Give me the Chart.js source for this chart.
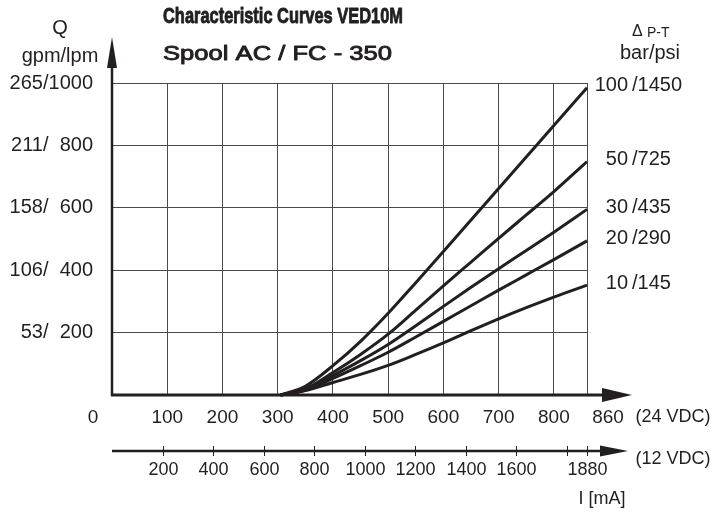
<!DOCTYPE html>
<html>
<head>
<meta charset="utf-8">
<title>Characteristic Curves VED10M</title>
<script src="https://cdn.jsdelivr.net/npm/chart.js@4"></script>
<style>
  html, body { margin: 0; padding: 0; background: #fff; }
  canvas { display: block; }
</style>
</head>
<body>
<canvas id="curves" width="717" height="512"></canvas>
<script>
// Coil current at 24 VDC (mA) where the flow curves are sampled
const CURRENT_24V = [305, 350, 400, 450, 500, 550, 600, 650, 700, 750, 800, 860];

// Flow Q (lpm) for each pressure drop P-T
const FLOW_100BAR = [0, 28, 94, 172, 262, 360, 460, 561, 662, 763, 864, 985];
const FLOW_50BAR  = [0, 20, 72, 130, 195, 272, 350, 426, 502, 577, 652, 748];
const FLOW_30BAR  = [0, 17, 62, 110, 162, 222, 284, 345, 405, 463, 522, 595];
const FLOW_20BAR  = [0, 15, 53, 94, 137, 186, 236, 286, 336, 385, 434, 494];
const FLOW_10BAR  = [0, 14, 40, 66, 95, 130, 167, 206, 244, 280, 314, 352];

const PRESSURE_BAR = [100, 50, 30, 20, 10];
const PRESSURE_PSI = [1450, 725, 435, 290, 145];

// Axis ticks
const FLOW_LPM = [200, 400, 600, 800, 1000];
const FLOW_GPM = [53, 106, 158, 211, 265];
const TICKS_24V = [0, 100, 200, 300, 400, 500, 600, 700, 800, 860];
const TICKS_12V = [200, 400, 600, 800, 1000, 1200, 1400, 1600, 1800, 1880];
const LABELS_12V = ["200", "400", "600", "800", "1000", "1200", "1400", "1600", "", "1880"];

const INK = "#231f20";
const GRID = "#4a4a4a";
const FONT = '"Liberation Sans", Arial, Helvetica, sans-serif';

function setFont(ctx, size, weight) {
    ctx.font = (weight || "normal") + " " + size + "px " + FONT;
}

function label(ctx, str, x, y, size, align) {
    setFont(ctx, size);
    ctx.textAlign = align || "center";
    ctx.fillText(str, x, y);
}

function arrowRight(ctx, tipX, tipY, len, half) {
    ctx.beginPath();
    ctx.moveTo(tipX, tipY);
    ctx.lineTo(tipX - len, tipY - half);
    ctx.lineTo(tipX - len, tipY + half);
    ctx.closePath();
    ctx.fill();
}

function arrowUp(ctx, tipX, tipY, len, half) {
    ctx.beginPath();
    ctx.moveTo(tipX, tipY);
    ctx.lineTo(tipX - half, tipY + len);
    ctx.lineTo(tipX + half, tipY + len);
    ctx.closePath();
    ctx.fill();
}

// text squeezed horizontally to a given width, with an optional outline to thicken it
function fitText(ctx, str, x, y, width, stroke) {
    const w = ctx.measureText(str).width;
    ctx.save();
    ctx.translate(x, y);
    ctx.scale(width / w, 1);
    ctx.textAlign = "left";
    ctx.fillText(str, 0, 0);
    if (stroke) {
        ctx.lineWidth = stroke;
        ctx.lineJoin = "round";
        ctx.strokeText(str, 0, 0);
    }
    ctx.restore();
}

const decorations = {
    id: "decorations",
    afterDraw(chart) {
        const ctx = chart.ctx;
        const x = chart.scales.x, y = chart.scales.y, x12 = chart.scales.mA12;
        const x0 = x.getPixelForValue(0);
        const y0 = y.getPixelForValue(0);
        const y12 = y0 + 56;

        ctx.save();
        ctx.fillStyle = INK;
        ctx.strokeStyle = INK;
        ctx.lineCap = "butt";

        // Q axis
        ctx.lineWidth = 2.5;
        ctx.beginPath();
        ctx.moveTo(x0, y0 + 1);
        ctx.lineTo(x0, 60);
        ctx.stroke();
        arrowUp(ctx, x0, 37, 31, 5);

        // current axis, 24 VDC
        ctx.lineWidth = 3;
        ctx.beginPath();
        ctx.moveTo(x0 - 1, y0);
        ctx.lineTo(606, y0);
        ctx.stroke();
        arrowRight(ctx, 632, y0, 30, 7);

        ctx.textBaseline = "middle";
        TICKS_24V.forEach(v => {
            let px = x.getPixelForValue(v);
            if (v === 0) px -= 19;
            if (v === TICKS_24V[TICKS_24V.length - 1]) px += 21;
            label(ctx, String(v), px, y0 + 23, 19);
        });
        label(ctx, "(24 VDC)", 673, y0 + 22, 18);

        // current axis, 12 VDC
        ctx.lineWidth = 2.5;
        ctx.beginPath();
        ctx.moveTo(x0, y12);
        ctx.lineTo(604, y12);
        ctx.stroke();
        arrowRight(ctx, 628, y12, 28, 5.5);
        ctx.lineWidth = 1;
        TICKS_12V.forEach((v, i) => {
            const px = Math.round(x12.getPixelForValue(v)) + 0.5;
            ctx.beginPath();
            ctx.moveTo(px, y12 - 5);
            ctx.lineTo(px, y12 + 5);
            ctx.stroke();
            if (LABELS_12V[i]) label(ctx, LABELS_12V[i], px, y12 + 19, 18);
        });
        label(ctx, "(12 VDC)", 673, y12 + 8, 18);
        label(ctx, "I [mA]", 602, y12 + 48, 18);

        // Q units
        label(ctx, "Q", 60, 28, 20);
        label(ctx, "gpm/lpm", 60, 56, 20);

        // pressure drop heading
        label(ctx, "\u0394", 632, 32, 16, "left");
        label(ctx, "P-T", 647, 33, 14, "left");
        label(ctx, "bar/psi", 650, 53, 20);

        // curve labels, aligned on the slash
        chart.data.datasets.forEach((ds, i) => {
            const pts = chart.getDatasetMeta(i).data;
            const py = pts[pts.length - 1].y - 2;
            label(ctx, String(PRESSURE_BAR[i]), 628, py, 20, "right");
            label(ctx, "/" + PRESSURE_PSI[i], 632, py, 20, "left");
        });

        // headings
        ctx.textBaseline = "alphabetic";
        setFont(ctx, 22, "bold");
        fitText(ctx, "Characteristic Curves VED10M", 163, 23, 240, 0.9);
        setFont(ctx, 21);
        fitText(ctx, "Spool AC / FC - 350", 163, 60, 229, 0.9);

        ctx.restore();
    }
};

function curve(data) {
    return {
        data: CURRENT_24V.map((c, i) => ({ x: c, y: data[i] })),
        borderColor: INK,
        borderWidth: 3,
        pointRadius: 0,
        cubicInterpolationMode: "monotone",
        fill: false,
        clip: false
    };
}

new Chart(document.getElementById("curves"), {
    type: "line",
    data: {
        datasets: [FLOW_100BAR, FLOW_50BAR, FLOW_30BAR, FLOW_20BAR, FLOW_10BAR].map(curve)
    },
    options: {
        responsive: false,
        animation: false,
        devicePixelRatio: 1,
        layout: { padding: { left: 0, top: 83, right: 130, bottom: 117 } },
        plugins: { legend: { display: false }, tooltip: { enabled: false } },
        scales: {
            x: {
                type: "linear",
                min: 0,
                max: 860,
                afterBuildTicks: s => { s.ticks = TICKS_24V.map(v => ({ value: v })); },
                afterFit: s => { s.height = 0; },
                ticks: { display: false },
                grid: { color: GRID, lineWidth: 1, drawTicks: false },
                border: { display: false }
            },
            mA12: {
                type: "linear",
                position: "bottom",
                min: 0,
                max: 1880,
                display: false
            },
            y: {
                type: "linear",
                min: 0,
                max: 1000,
                afterBuildTicks: s => { s.ticks = [0].concat(FLOW_LPM).map(v => ({ value: v })); },
                afterFit: s => { s.width = 112; },
                ticks: {
                    padding: 19,
                    color: INK,
                    font: { family: FONT, size: 20 },
                    callback: (v, i) => i === 0 ? "" :
                        FLOW_GPM[i - 1] + "/" + (FLOW_LPM[i - 1] < 1000 ? "  " : "") + FLOW_LPM[i - 1]
                },
                grid: { color: GRID, lineWidth: 1, drawTicks: false },
                border: { display: false }
            }
        }
    },
    plugins: [decorations]
});
</script>
</body>
</html>
